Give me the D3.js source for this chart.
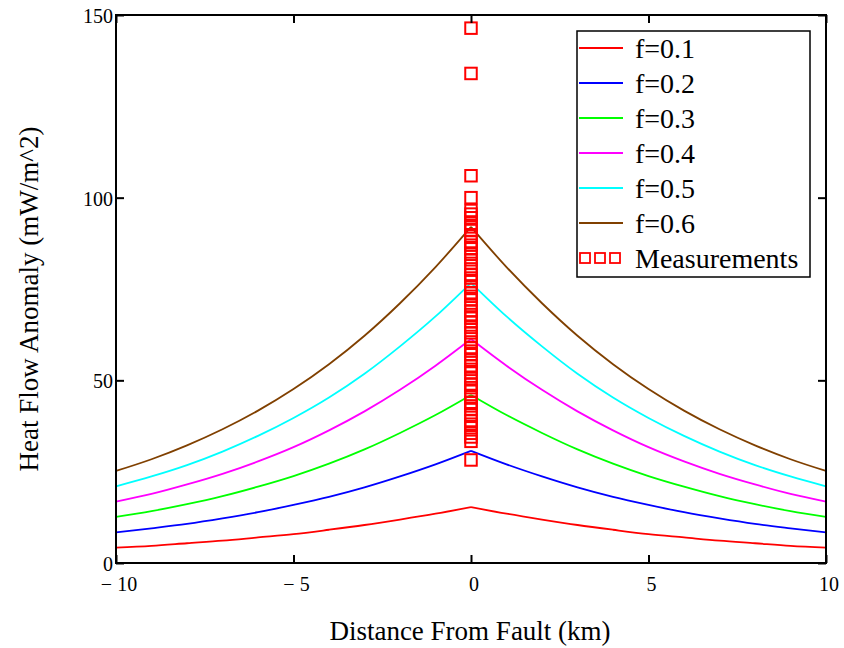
<!DOCTYPE html>
<html>
<head>
<meta charset="utf-8">
<script src="https://cdn.jsdelivr.net/npm/d3@7"></script>
<style>
  body { margin: 0; background: #fff; }
  text { font-family: "Liberation Serif", "Times New Roman", serif; fill: #000; }
</style>
</head>
<body>
<script>
// chart data
var distance = [-10, -9, -8, -7, -6, -5, -4, -3, -2, -1, 0, 1, 2, 3, 4, 5, 6, 7, 8, 9, 10];
var f01 = [4.2, 4.7, 5.4, 6.1, 7.0, 7.9, 9.1, 10.4, 11.9, 13.5, 15.3, 13.5, 11.9, 10.4, 9.1, 7.9, 7.0, 6.1, 5.4, 4.7, 4.2];
var f02 = [8.4, 9.5, 10.7, 12.2, 13.9, 15.9, 18.1, 20.7, 23.7, 27.0, 30.7, 27.0, 23.7, 20.7, 18.1, 15.9, 13.9, 12.2, 10.7, 9.5, 8.4];
var f03 = [12.6, 14.2, 16.1, 18.3, 20.9, 23.8, 27.2, 31.1, 35.6, 40.5, 46.0, 40.5, 35.6, 31.1, 27.2, 23.8, 20.9, 18.3, 16.1, 14.2, 12.6];
var f04 = [16.8, 18.9, 21.5, 24.4, 27.8, 31.7, 36.3, 41.5, 47.4, 54.0, 61.3, 54.0, 47.4, 41.5, 36.3, 31.7, 27.8, 24.4, 21.5, 18.9, 16.8];
var f05 = [21.0, 23.7, 26.8, 30.5, 34.8, 39.7, 45.3, 51.8, 59.3, 67.5, 76.7, 67.5, 59.3, 51.8, 45.3, 39.7, 34.8, 30.5, 26.8, 23.7, 21.0];
var f06 = [25.2, 28.4, 32.2, 36.6, 41.7, 47.6, 54.4, 62.2, 71.1, 81.0, 92.0, 81.0, 71.1, 62.2, 54.4, 47.6, 41.7, 36.6, 32.2, 28.4, 25.2];
var seriesNames = ["f=0.1", "f=0.2", "f=0.3", "f=0.4", "f=0.5", "f=0.6"];
var seriesColors = ["#ff0000", "#0000ff", "#00ff00", "#ff00ff", "#00ffff", "#804000"];
var measurements = [146.4, 134, 106, 100, 96.5, 95.5, 94.5, 93, 92, 91, 89.5, 88, 87, 86, 84.5, 83, 82, 80.5, 79, 78,
  77, 75.5, 74, 73, 72, 70.5, 69, 68, 67, 66, 64.5, 63, 62, 60.5, 59, 58, 57, 55.5, 54, 53, 52, 50.5, 49, 48, 47,
  45.5, 44, 43, 42, 40.5, 39, 38, 37, 35.5, 34.5, 33.3, 28.2];
var xTicks = [-10, -5, 0, 5, 10];
var yTicks = [0, 50, 100, 150];

var w = 844, h = 648;
var m = {left: 116, right: 18, top: 15, bottom: 85};
var iw = w - m.left - m.right, ih = h - m.top - m.bottom;

var svg = d3.select("body").append("svg").attr("width", w).attr("height", h);
var g = svg.append("g").attr("transform", "translate(" + m.left + "," + m.top + ")");

var x = d3.scaleLinear().domain([-10, 10]).range([0, iw]);
var y = d3.scaleLinear().domain([0, 150]).range([ih, 0]);

// curves, left and right half drawn separately so the peak stays sharp
var line = d3.line().x(function(d) { return x(d[0]); }).y(function(d) { return y(d[1]); }).curve(d3.curveMonotoneX);
var allSeries = [f01, f02, f03, f04, f05, f06];
allSeries.forEach(function(vals, i) {
  var pts = distance.map(function(d, j) { return [d, vals[j]]; });
  var left = pts.filter(function(p) { return p[0] <= 0; });
  var right = pts.filter(function(p) { return p[0] >= 0; });
  [left, right].forEach(function(half) {
    g.append("path").datum(half).attr("d", line)
      .attr("fill", "none").attr("stroke", seriesColors[i]).attr("stroke-width", 1.8);
  });
});

// measurements
var sq = 11.5;
g.selectAll("rect.meas").data(measurements).enter().append("rect")
  .attr("class", "meas")
  .attr("x", x(0) - sq / 2)
  .attr("y", function(d) { return y(d) - sq / 2; })
  .attr("width", sq).attr("height", sq)
  .attr("fill", "none").attr("stroke", "#ff0000").attr("stroke-width", 2);

// frame + inward ticks on all four sides
g.append("rect").attr("width", iw).attr("height", ih)
  .attr("fill", "none").attr("stroke", "#000").attr("stroke-width", 2);

var tl = 8;
g.append("g").attr("transform", "translate(0," + ih + ")")
  .call(d3.axisBottom(x).tickValues(xTicks).tickSizeInner(-tl).tickSizeOuter(0).tickFormat(""));
g.append("g")
  .call(d3.axisTop(x).tickValues(xTicks).tickSizeInner(-tl).tickSizeOuter(0).tickFormat(""));
g.append("g")
  .call(d3.axisLeft(y).tickValues(yTicks).tickSizeInner(-tl).tickSizeOuter(0).tickFormat(""));
g.append("g").attr("transform", "translate(" + iw + ",0)")
  .call(d3.axisRight(y).tickValues(yTicks).tickSizeInner(-tl).tickSizeOuter(0).tickFormat(""));
g.selectAll(".domain").remove();
g.selectAll(".tick line").attr("stroke", "#000").attr("stroke-width", 2);

// tick labels
g.selectAll("text.xl").data(xTicks).enter().append("text")
  .attr("class", "xl")
  .attr("x", function(d) { return x(d) + 3; })
  .attr("y", ih + 28)
  .attr("text-anchor", "middle")
  .style("font-size", "20px")
  .text(function(d) { return d < 0 ? "\u2212 " + Math.abs(d) : d; });
g.selectAll("text.yl").data(yTicks).enter().append("text")
  .attr("class", "yl")
  .attr("x", -3)
  .attr("y", function(d) { return y(d) + 8; })
  .attr("text-anchor", "end")
  .style("font-size", "20px")
  .text(function(d) { return d; });

// axis titles
svg.append("text").attr("x", 470).attr("y", 640).attr("text-anchor", "middle")
  .style("font-size", "27px").text("Distance From Fault (km)");
svg.append("text").attr("transform", "translate(38,299) rotate(-90)").attr("text-anchor", "middle")
  .style("font-size", "27px").text("Heat Flow Anomaly (mW/m^2)");

// legend
var lg = svg.append("g").attr("transform", "translate(577,31)");
lg.append("rect").attr("width", 233).attr("height", 246)
  .attr("fill", "#fff").attr("stroke", "#000").attr("stroke-width", 1.5);
var rowH = 35;
seriesNames.forEach(function(name, i) {
  var cy = 17 + i * rowH;
  lg.append("line").attr("x1", 2).attr("x2", 46).attr("y1", cy).attr("y2", cy)
    .attr("stroke", seriesColors[i]).attr("stroke-width", 1.8);
  lg.append("text").attr("x", 58).attr("y", cy + 10).style("font-size", "28px").text(name);
});
var my = 17 + 6 * rowH;
[3, 18, 33].forEach(function(ox) {
  lg.append("rect").attr("x", ox).attr("y", my - 5).attr("width", 10).attr("height", 10)
    .attr("fill", "none").attr("stroke", "#ff0000").attr("stroke-width", 1.8);
});
lg.append("text").attr("x", 58).attr("y", my + 10).style("font-size", "28px").text("Measurements");
</script>
</body>
</html>
